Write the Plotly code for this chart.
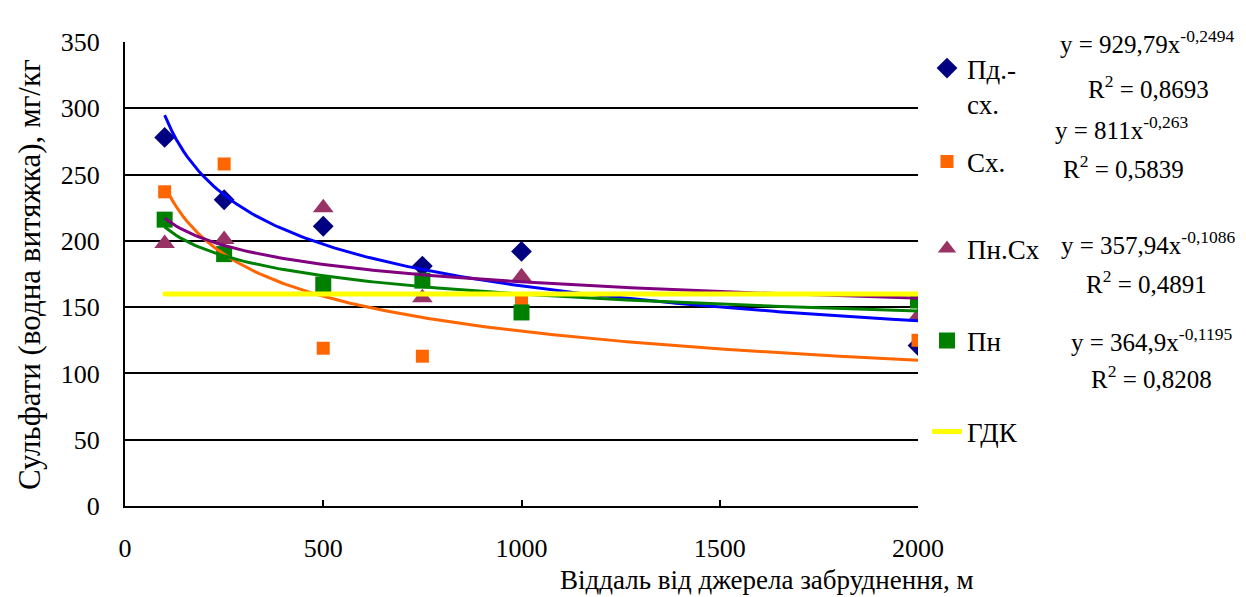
import numpy as np
import plotly.graph_objects as go

# ---- data ----
distance = [100, 250, 500, 750, 1000, 2000]
pd_sx = [278, 231, 211, 181, 192, 121]      # Пд.-сх.
sx = [237, 258, 119, 113, 156, 125]         # Сх.
pn_sx = [198, 201, 225, 157, 173, 143]      # Пн.Сх
pn = [216, 190, 167, 170, 146, 155]         # Пн
gdk = [160, 160, 160, 160, 160, 160]        # ГДК

# power trendline coefficients shown on the chart: y = a * x^b
trend_pd_sx = (929.79, -0.2494)
trend_sx = (811.0, -0.263)
trend_pn_sx = (357.94, -0.1086)
trend_pn = (364.9, -0.1195)

eq_texts = [
    ("y = 929,79x<sup>-0,2494</sup>", "R<sup>2</sup> = 0,8693"),
    ("y = 811x<sup>-0,263</sup>", "R<sup>2</sup> = 0,5839"),
    ("y = 357,94x<sup>-0,1086</sup>", "R<sup>2</sup> = 0,4891"),
    ("y = 364,9x<sup>-0,1195</sup>", "R<sup>2</sup> = 0,8208"),
]

FONT = "Liberation Serif, Times New Roman, serif"

# the page body has an 8px margin; lay out in window pixels and shift
OFF = 8
W, H = 1246 - OFF, 597 - OFF
PL, PR, PT, PB = 125, 918, 42, 506          # plot area in window pixels
L, T = PL - OFF, PT - OFF
R, B = W - (PR - OFF), H - (PB - OFF)
PW, PH = W - L - R, H - T - B


def px_x(x):
    return (x - OFF - L) / PW


def px_y(y):
    return (H - B - (y - OFF)) / PH


fig = go.Figure()

xt = np.linspace(min(distance), max(distance), 200)


def add_trend(coef, color):
    a, b = coef
    fig.add_trace(go.Scatter(x=xt, y=a * xt ** b, mode="lines",
                             line=dict(color=color, width=3),
                             showlegend=False, hoverinfo="skip"))


fig.add_trace(go.Scatter(x=distance, y=pd_sx, mode="markers", name="Пд.-<br>сх.",
                         marker=dict(symbol="diamond", color="#000080", size=16),
                         legend="legend"))
fig.add_trace(go.Scatter(x=distance, y=sx, mode="markers", name="Сх.",
                         marker=dict(symbol="square", color="#FF6600", size=13),
                         legend="legend2"))
fig.add_trace(go.Scatter(x=distance, y=pn_sx, mode="markers", name="Пн.Сх",
                         marker=dict(symbol="triangle-up", color="#993366", size=18),
                         legend="legend3"))
fig.add_trace(go.Scatter(x=distance, y=pn, mode="markers", name="Пн",
                         marker=dict(symbol="square", color="#008000", size=16),
                         legend="legend4"))

add_trend(trend_pd_sx, "#0000FF")
add_trend(trend_sx, "#FF6600")
add_trend(trend_pn_sx, "#800080")
add_trend(trend_pn, "#008000")

fig.add_trace(go.Scatter(x=distance, y=gdk, mode="lines+markers", name="ГДК",
                         line=dict(color="#FFFF00", width=5),
                         marker=dict(symbol="square", color="#FFFF00", size=4),
                         legend="legend5"))

leg_font = dict(family=FONT, size=27, color="black")
leg_x = px_x(927)
legend_common = dict(x=leg_x, xanchor="left", yanchor="middle", font=leg_font,
                     bgcolor="rgba(0,0,0,0)", itemwidth=30, valign="top")
fig.update_layout(
    legend=dict(y=px_y(86), **legend_common),
    legend2=dict(y=px_y(162), **legend_common),
    legend3=dict(y=px_y(249), **legend_common),
    legend4=dict(y=px_y(341), **legend_common),
    legend5=dict(y=px_y(432), **legend_common),
)

# equation annotations
eq_pos = [((1147, 42), (1148, 87)), ((1122, 128), (1123, 167)),
          ((1148, 243), (1146, 282)), ((1151, 340), (1151, 377))]
for (l1, l2), ((x1, y1), (x2, y2)) in zip(eq_texts, eq_pos):
    for txt, xx, yy in ((l1, x1, y1), (l2, x2, y2)):
        fig.add_annotation(text=txt, xref="paper", yref="paper", x=px_x(xx), y=px_y(yy),
                           xanchor="center", yanchor="middle", showarrow=False,
                           font=dict(family=FONT, size=25, color="black"))

# axis titles
fig.add_annotation(text="Віддаль від джерела забруднення, м", xref="paper", yref="paper",
                   x=px_x(767), y=px_y(580), xanchor="center", yanchor="middle",
                   showarrow=False, font=dict(family=FONT, size=27, color="black"))
fig.add_annotation(text="Сульфати (водна витяжка), мг/кг", xref="paper", yref="paper",
                   x=px_x(29), y=px_y(275), xanchor="center", yanchor="middle",
                   textangle=-90, showarrow=False,
                   font=dict(family=FONT, size=31, color="black"))

fig.update_xaxes(range=[0, 2000], dtick=500, showgrid=False, zeroline=False,
                 showline=True, linecolor="black", linewidth=2,
                 ticks="inside", ticklen=6, tickwidth=2, tickcolor="black",
                 ticklabelstandoff=18,
                 tickfont=dict(family=FONT, size=26, color="black"))
fig.update_yaxes(range=[0, 350], dtick=50, showgrid=True, gridcolor="black", gridwidth=1.5,
                 zeroline=False, showline=True, linecolor="black", linewidth=2,
                 ticks="inside", ticklen=6, tickwidth=2, tickcolor="black",
                 ticklabelstandoff=18,
                 tickfont=dict(family=FONT, size=26, color="black"))

fig.update_layout(width=W, height=H, margin=dict(l=L, r=R, t=T, b=B),
                  plot_bgcolor="white", paper_bgcolor="white",
                  font=dict(family=FONT))

fig.write_html("out.html")
